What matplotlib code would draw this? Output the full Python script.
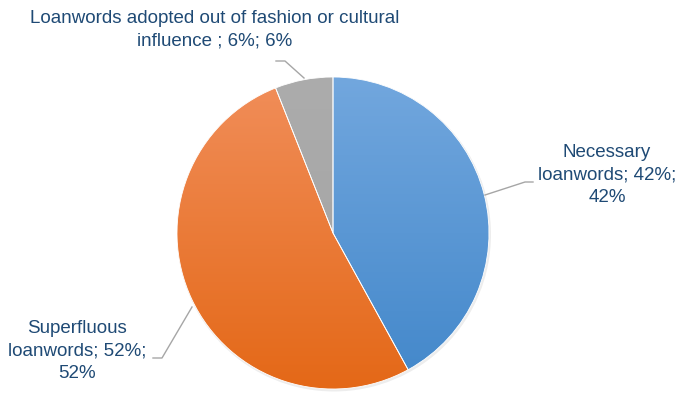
import numpy as np
import matplotlib
matplotlib.use("Agg")
import matplotlib.pyplot as plt
from matplotlib.colors import LinearSegmentedColormap

plt.rcParams['font.family'] = ['Liberation Sans', 'DejaVu Sans']

# data
labels = ['Necessary\nloanwords; 42%;\n42%',
          'Superfluous\nloanwords; 52%;\n52%',
          'Loanwords adopted out of fashion or cultural\ninfluence ; 6%; 6%']
values = [42, 52, 6]
top_colors = ['#72A7DE', '#F18E5A', '#ACACAC']
bot_colors = ['#4287CA', '#E46817', '#A2A2A2']

W, H = 679, 398
fig = plt.figure(figsize=(W / 100, H / 100), dpi=100)
ax = fig.add_axes([0, 0, 1, 1])

cx, cy, r = 333, H - 233, 156

# faint shadow
shadow = plt.Circle((cx + 1, cy - 1.5), r + 1, color='#000000', alpha=0.07, lw=0)
ax.add_patch(shadow)

wedges, _ = ax.pie(values, center=(cx, cy), radius=r, startangle=90,
                   counterclock=False, frame=True,
                   wedgeprops=dict(edgecolor='white', linewidth=0.6))
ax.set_xlim(0, W)
ax.set_ylim(0, H)
ax.axis('off')

# vertical gradient fill for each wedge
for w, c0, c1 in zip(wedges, bot_colors, top_colors):
    w.set_facecolor('none')
    cmap = LinearSegmentedColormap.from_list('g', [c0, c1])
    grad = np.linspace(0, 1, 256).reshape(-1, 1)
    im = ax.imshow(grad, cmap=cmap, origin='lower', aspect='auto',
                   extent=(cx - r, cx + r, cy - r, cy + r), zorder=1)
    im.set_clip_path(w)
    w.set_zorder(2)

# leader lines
lc = '#A6A6A6'
ax.plot([533, 525, 485], [H - 182, H - 182, H - 195], color=lc, lw=1)
ax.plot([153, 162, 192], [H - 358, H - 358, H - 307], color=lc, lw=1)
ax.plot([276, 285, 304], [H - 61, H - 61, H - 78], color=lc, lw=1)

tc = '#1F4A75'
fs = 13.5
ls = 1.45
ax.text(607, H - 175, labels[0], ha='center', va='center', color=tc, fontsize=fs, linespacing=ls)
ax.text(77, H - 351, labels[1], ha='center', va='center', color=tc, fontsize=fs, linespacing=ls)
ax.text(215, H - 30, labels[2], ha='center', va='center', color=tc, fontsize=fs, linespacing=ls)

fig.savefig('out.png', dpi=100)
